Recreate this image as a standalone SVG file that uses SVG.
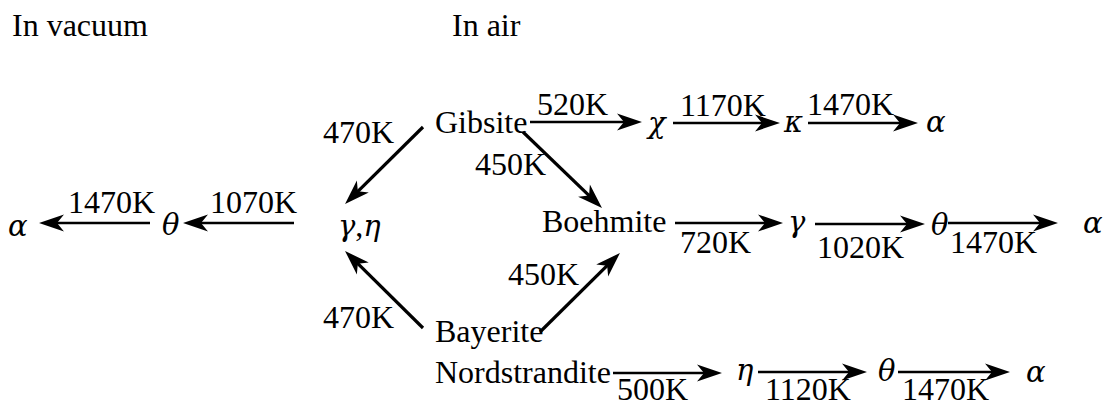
<svg xmlns="http://www.w3.org/2000/svg" width="1104" height="407" viewBox="0 0 1104 407">
  <style>
    text { font-family: "Liberation Serif", "Times New Roman", serif; font-size: 32px; fill: #000; }
    .g { font-family: "DejaVu Serif", "Liberation Serif", serif; font-style: italic; font-size: 29px; }
    .c { stroke: #000; fill: none; stroke-linecap: butt; }
    .h { stroke-width: 2.4; }
    .d { stroke-width: 3.2; }
  </style>
  <defs>
    <marker id="head" viewBox="-27 -10 29 20" refX="-6" refY="0" markerWidth="29" markerHeight="20" markerUnits="userSpaceOnUse" orient="auto">
      <path d="M0,0 L-25,-8.5 L-18,0 L-25,8.5 Z" fill="#000"/>
    </marker>
  </defs>

  <rect width="1104" height="407" fill="#fff"/>

  <!-- column headings -->
  <text x="12" y="36">In vacuum</text>
  <text x="452" y="36">In air</text>

  <!-- connectors -->
  <g id="connectors">
    <!-- vacuum branch -->
    <line class="c h" x1="150" y1="223" x2="45" y2="223" marker-end="url(#head)"/>
    <line class="c h" x1="294" y1="223" x2="189" y2="223" marker-end="url(#head)"/>
    <line class="c d" x1="423" y1="127" x2="349.3" y2="199.8" marker-end="url(#head)"/>
    <line class="c d" x1="423" y1="328" x2="349.3" y2="255.2" marker-end="url(#head)"/>
    <!-- gibbsite chain -->
    <line class="c h" x1="530" y1="122" x2="636" y2="122" marker-end="url(#head)"/>
    <line class="c h" x1="673" y1="123" x2="774" y2="123" marker-end="url(#head)"/>
    <line class="c h" x1="808" y1="123" x2="912" y2="123" marker-end="url(#head)"/>
    <line class="c d" x1="523" y1="132" x2="597.7" y2="203.8" marker-end="url(#head)"/>
    <line class="c d" x1="540" y1="332" x2="615.7" y2="257.2" marker-end="url(#head)"/>
    <!-- boehmite chain -->
    <line class="c h" x1="675" y1="223" x2="777" y2="223" marker-end="url(#head)"/>
    <line class="c h" x1="815" y1="224" x2="919" y2="224" marker-end="url(#head)"/>
    <line class="c h" x1="948" y1="223" x2="1052" y2="223" marker-end="url(#head)"/>
    <!-- nordstrandite chain -->
    <line class="c h" x1="613" y1="373" x2="716" y2="373" marker-end="url(#head)"/>
    <line class="c h" x1="758" y1="372" x2="861" y2="372" marker-end="url(#head)"/>
    <line class="c h" x1="898" y1="372" x2="1004" y2="372" marker-end="url(#head)"/>
  </g>

  <!-- connector labels -->
  <g id="labels">
    <text x="68" y="213">1470K</text>
    <text x="210" y="213">1070K</text>
    <text x="323" y="143">470K</text>
    <text x="323" y="328">470K</text>
    <text x="537" y="115">520K</text>
    <text x="680" y="116">1170K</text>
    <text x="807" y="115">1470K</text>
    <text x="475" y="175">450K</text>
    <text x="508" y="285">450K</text>
    <text x="680" y="253">720K</text>
    <text x="817" y="258">1020K</text>
    <text x="950" y="253">1470K</text>
    <text x="617" y="400">500K</text>
    <text x="765" y="400">1120K</text>
    <text x="902" y="400">1470K</text>
  </g>

  <!-- nodes -->
  <g id="alpha-vacuum"><text class="g" x="8" y="236">α</text></g>
  <g id="theta-vacuum"><text class="g" x="162" y="235">θ</text></g>
  <g id="gamma-eta"><text x="338" y="236"><tspan class="g">γ</tspan>,<tspan class="g">η</tspan></text></g>

  <g id="gibbsite"><text x="435" y="133">Gibsite</text></g>
  <g id="chi"><text class="g" x="648" y="133">χ</text></g>
  <g id="kappa"><text class="g" x="784" y="132">κ</text></g>
  <g id="alpha-1"><text class="g" x="926" y="132">α</text></g>

  <g id="boehmite"><text x="542" y="232">Boehmite</text></g>
  <g id="gamma"><text class="g" x="788" y="232">γ</text></g>
  <g id="theta-1"><text class="g" x="931" y="235">θ</text></g>
  <g id="alpha-2"><text class="g" x="1083" y="233">α</text></g>

  <g id="bayerite"><text x="435" y="342">Bayerite</text></g>

  <g id="nordstrandite"><text x="435" y="383">Nordstrandite</text></g>
  <g id="eta"><text class="g" x="736" y="380">η</text></g>
  <g id="theta-2"><text class="g" x="878" y="381">θ</text></g>
  <g id="alpha-3"><text class="g" x="1026" y="382">α</text></g>
</svg>
